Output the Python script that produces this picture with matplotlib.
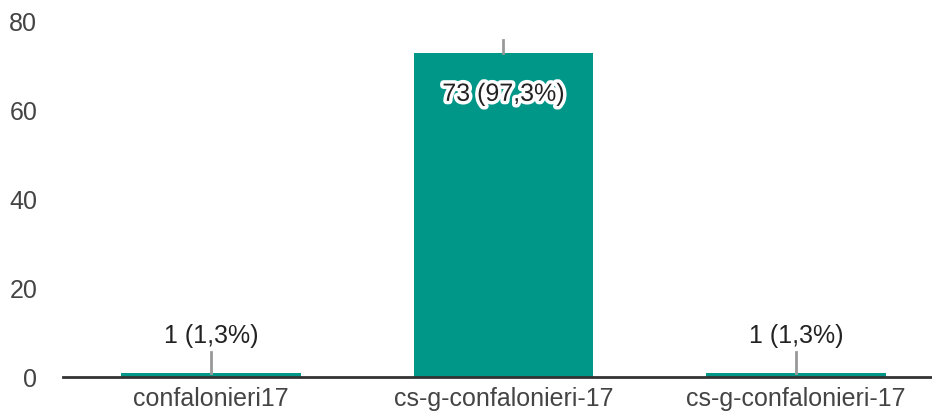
import matplotlib.pyplot as plt
import matplotlib.patheffects as pe

categories = ["confalonieri17", "cs-g-confalonieri-17", "cs-g-confalonieri-17"]
counts = [1, 73, 1]
yticks = [0, 20, 40, 60, 80]

total = sum(counts)
labels = [f"{c} ({c / total * 100:.1f}%)".replace(".", ",") for c in counts]

plt.rcParams["font.family"] = ["Liberation Sans", "DejaVu Sans"]

fig = plt.figure(figsize=(9.32, 4.17), dpi=100)
ax = fig.add_axes([0.0676, 0.0959, 0.9324, 0.8515])

x = range(len(categories))
ax.bar(x, counts, width=0.615, color="#009688", zorder=2)

for i, (c, lab) in enumerate(zip(counts, labels)):
    if c > 40:
        # leader line above the bar, label inside with white halo
        ax.plot([i, i], [c, c + 3.0], color="#999999", lw=2, clip_on=False, zorder=3)
        ax.text(i, c - 9.2, lab, ha="center", va="center", fontsize=18, color="#222222",
                zorder=4, path_effects=[pe.withStroke(linewidth=5, foreground="white")])
    else:
        ax.plot([i, i], [c, c + 4.6], color="#999999", lw=2, zorder=3)
        ax.text(i, c + 8.3, lab, ha="center", va="center", fontsize=18, color="#222222", zorder=4)

ax.set_xlim(-0.506, 2.465)
ax.set_ylim(0, 80)
ax.set_xticks(list(x))
ax.set_xticklabels(categories)
ax.set_yticks(yticks)

for s in ["top", "right", "left"]:
    ax.spines[s].set_visible(False)
ax.spines["bottom"].set_color("#333333")
ax.spines["bottom"].set_linewidth(2)
ax.spines["bottom"].set_zorder(5)

ax.tick_params(axis="both", length=0, labelsize=18, colors="#444444")
ax.tick_params(axis="y", pad=18.5)
ax.tick_params(axis="x", pad=7)

fig.savefig("out.png", dpi=100)
